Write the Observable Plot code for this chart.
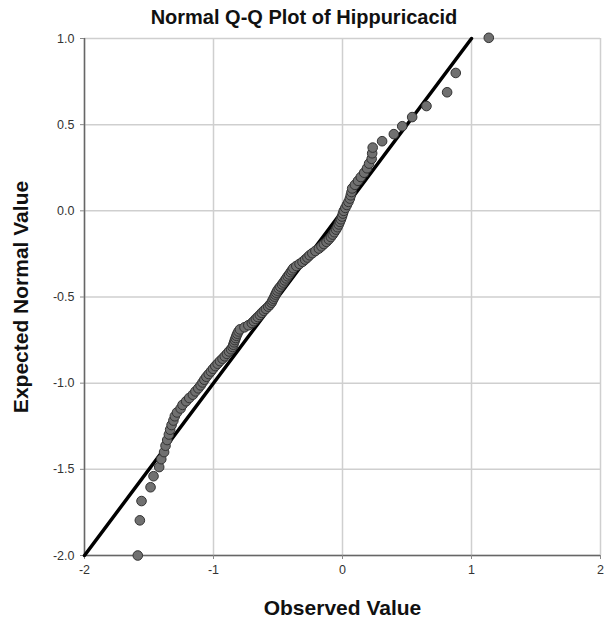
<!DOCTYPE html>
<html>
<head>
<meta charset="utf-8">
<script src="https://cdn.jsdelivr.net/npm/d3@7"></script>
<script src="https://cdn.jsdelivr.net/npm/@observablehq/plot@0.6"></script>
<style>
  html, body { margin: 0; padding: 0; background: #fff; }
  #wrap { width: 608px; height: 624px; position: relative; font-family: "Liberation Sans", Arial, sans-serif; }
  #title { width: 608px; height: 34px; line-height: 34px; text-align: center; font-size: 20px; font-weight: bold; color: #111; }
</style>
</head>
<body>
<div id="wrap">
  <div id="title">Normal Q-Q Plot of Hippuricacid</div>
  <div id="chart"></div>
</div>
<script>
const chartTitle = "Normal Q-Q Plot of Hippuricacid";
const xLabel = "Observed Value";
const yLabel = "Expected Normal Value";

const observed = [
  -1.587, -1.571, -1.558, -1.488, -1.465, -1.421, -1.405, -1.383, -1.372, -1.359,
  -1.346, -1.336, -1.325, -1.311, -1.300, -1.283, -1.255, -1.240, -1.212, -1.188,
  -1.160, -1.140, -1.118, -1.100, -1.085, -1.071, -1.055, -1.037, -1.020, -1.004,
  -0.986, -0.968, -0.950, -0.930, -0.913, -0.896, -0.880, -0.864, -0.852, -0.846,
  -0.840, -0.834, -0.828, -0.822, -0.815, -0.806, -0.795, -0.760, -0.730, -0.703,
  -0.688, -0.672, -0.657, -0.641, -0.626, -0.610, -0.594, -0.576, -0.563, -0.550,
  -0.543, -0.535, -0.527, -0.520, -0.513, -0.505, -0.494, -0.482, -0.469, -0.458,
  -0.447, -0.436, -0.425, -0.414, -0.402, -0.392, -0.381, -0.358, -0.333, -0.310,
  -0.290, -0.272, -0.255, -0.234, -0.210, -0.183, -0.163, -0.144, -0.124, -0.106,
  -0.090, -0.076, -0.063, -0.050, -0.039, -0.029, -0.020, -0.012, -0.004, 0.003,
  0.010, 0.022, 0.034, 0.046, 0.057, 0.064, 0.070, 0.075, 0.096, 0.120,
  0.142, 0.168, 0.190, 0.206, 0.226, 0.230, 0.234, 0.307, 0.398, 0.463,
  0.540, 0.651, 0.811, 0.878, 1.134
];

const expected = [
  -2.000, -1.796, -1.684, -1.604, -1.540, -1.487, -1.441, -1.400, -1.363, -1.330,
  -1.298, -1.270, -1.243, -1.217, -1.192, -1.170, -1.147, -1.126, -1.105, -1.086,
  -1.067, -1.048, -1.030, -1.013, -0.996, -0.980, -0.963, -0.947, -0.932, -0.917,
  -0.901, -0.887, -0.872, -0.858, -0.844, -0.830, -0.816, -0.803, -0.790, -0.777,
  -0.763, -0.750, -0.738, -0.725, -0.713, -0.700, -0.688, -0.676, -0.664, -0.651,
  -0.640, -0.627, -0.616, -0.604, -0.592, -0.580, -0.569, -0.556, -0.545, -0.533,
  -0.521, -0.510, -0.498, -0.486, -0.475, -0.463, -0.451, -0.440, -0.427, -0.416,
  -0.404, -0.392, -0.380, -0.369, -0.356, -0.345, -0.333, -0.320, -0.308, -0.296,
  -0.283, -0.271, -0.258, -0.246, -0.233, -0.219, -0.206, -0.193, -0.180, -0.166,
  -0.152, -0.138, -0.124, -0.109, -0.095, -0.079, -0.064, -0.049, -0.033, -0.016,
  0.000, 0.017, 0.034, 0.052, 0.071, 0.090, 0.109, 0.130, 0.151, 0.174,
  0.196, 0.221, 0.247, 0.274, 0.302, 0.334, 0.367, 0.404, 0.445, 0.491,
  0.544, 0.608, 0.688, 0.800, 1.004
];

const xTicks = [-2, -1, 0, 1, 2];
const yTicks = [-2, -1.5, -1, -0.5, 0, 0.5, 1];
const lineX = [-2, 1];
const lineY = [-2, 1];

const points = observed.map((x, i) => ({x, y: expected[i]}));
const refLine = lineX.map((x, i) => ({x, y: lineY[i]}));

document.getElementById("title").textContent = chartTitle;

const font = "'Liberation Sans', Arial, sans-serif";

const plot = Plot.plot({
  width: 608,
  height: 590,
  marginTop: 4,
  marginBottom: 69,
  marginLeft: 84,
  marginRight: 8,
  style: {fontFamily: font, fontSize: "12px", color: "#333", background: "#fff", overflow: "visible"},
  x: {domain: [-2, 2], ticks: xTicks},
  y: {domain: [-2, 1], ticks: yTicks},
  marks: [
    Plot.gridX(xTicks, {stroke: "#cfcfcf", strokeOpacity: 1, strokeWidth: 1.5}),
    Plot.gridY(yTicks, {stroke: "#cfcfcf", strokeOpacity: 1, strokeWidth: 1.5}),
    Plot.ruleX([xTicks[0]], {stroke: "#666", strokeWidth: 1.5}),
    Plot.ruleY([yTicks[0]], {stroke: "#666", strokeWidth: 1.5}),
    Plot.axisX(xTicks, {
      tickSize: 4, tickPadding: 6, stroke: "#888", color: "#333", fontSize: 12.5,
      tickFormat: d => String(d),
      label: xLabel, labelAnchor: "center", labelOffset: 59, labelArrow: "none"
    }),
    Plot.axisY(yTicks, {
      tickSize: 4, tickPadding: 6, stroke: "#888", color: "#333", fontSize: 12.5,
      tickFormat: d => d.toFixed(1),
      label: yLabel, labelAnchor: "center", labelOffset: 71, labelArrow: "none"
    }),
    Plot.line(refLine, {x: "x", y: "y", stroke: "#000", strokeWidth: 3.5}),
    Plot.dot(points, {x: "x", y: "y", r: 4.8, fill: "#707070", stroke: "#333", strokeWidth: 1})
  ]
});

plot.querySelectorAll("[aria-label='x-axis label'], [aria-label='y-axis label']").forEach(g => {
  g.setAttribute("font-size", "21");
  g.setAttribute("font-weight", "bold");
  g.setAttribute("fill", "#111");
  g.querySelectorAll("text").forEach(t => {
    t.setAttribute("font-size", "21");
    t.setAttribute("font-weight", "bold");
    t.setAttribute("fill", "#111");
  });
});

document.getElementById("chart").appendChild(plot);
</script>
</body>
</html>
